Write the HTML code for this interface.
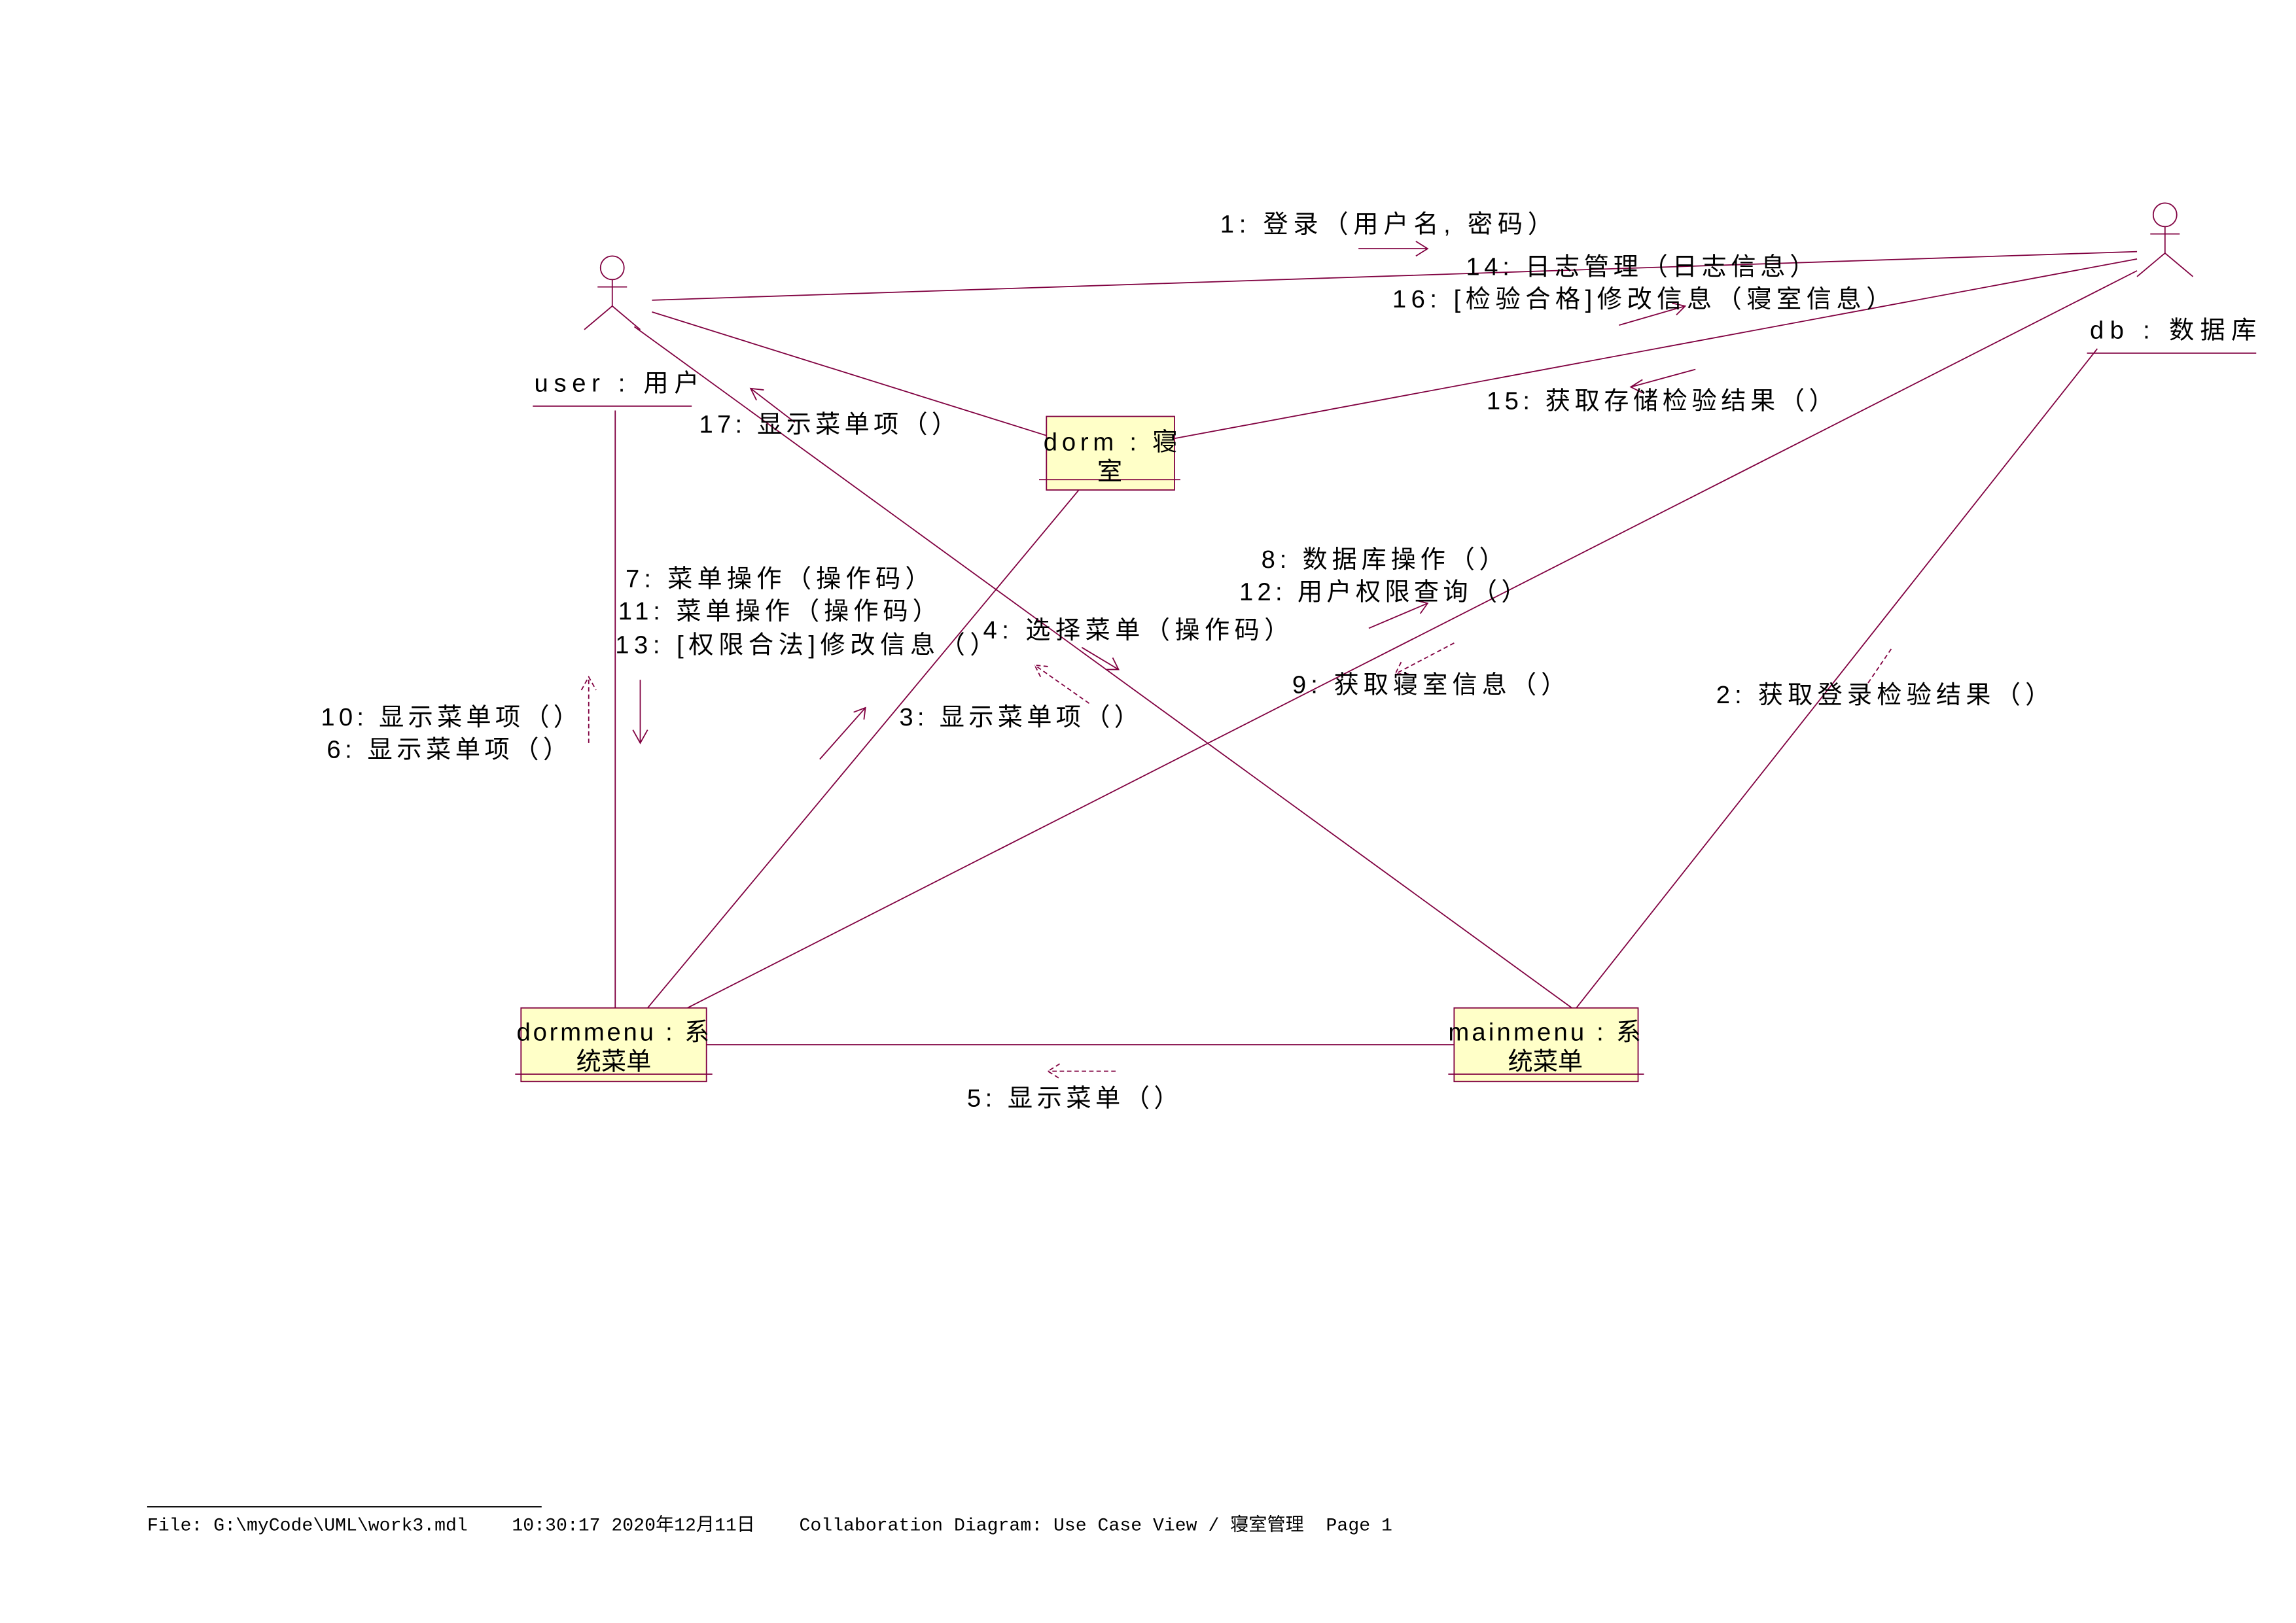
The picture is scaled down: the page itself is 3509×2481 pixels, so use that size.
<!DOCTYPE html>
<html><head><meta charset="utf-8"><style>
html,body{margin:0;padding:0;background:#fff;}
svg{display:block;}
text{font-family:"Liberation Sans","Noto Sans CJK SC",sans-serif;fill:#000;}
.m{font-family:"Liberation Mono","Noto Sans CJK SC",monospace;}
</style></head><body>
<svg width="3509" height="2481" viewBox="0 0 1560 1103" xmlns="http://www.w3.org/2000/svg">
<g stroke="#800040" stroke-width="0.8" fill="none">
<circle cx="416" cy="182" r="8"/>
<line x1="416" y1="190" x2="416" y2="208"/>
<line x1="406" y1="195" x2="426" y2="195"/>
<line x1="416" y1="208" x2="397" y2="224"/>
<line x1="416" y1="208" x2="435" y2="224"/>
<line x1="362" y1="276" x2="470" y2="276"/>
<circle cx="1471" cy="146" r="8"/>
<line x1="1471" y1="154" x2="1471" y2="172"/>
<line x1="1461" y1="159" x2="1481" y2="159"/>
<line x1="1471" y1="172" x2="1452" y2="188"/>
<line x1="1471" y1="172" x2="1490" y2="188"/>
<line x1="1418" y1="240" x2="1533" y2="240"/>
<line x1="443" y1="204" x2="1452" y2="171"/>
<line x1="443" y1="212" x2="711" y2="296"/>
<line x1="431" y1="222" x2="1068" y2="685"/>
<line x1="418" y1="279" x2="418" y2="685"/>
<line x1="798" y1="298" x2="1452" y2="176"/>
<line x1="733" y1="333" x2="440" y2="685"/>
<line x1="1452" y1="184" x2="467" y2="685"/>
<line x1="1425" y1="237" x2="1071" y2="685"/>
<line x1="480" y1="710" x2="988" y2="710"/>
<path d="M923 169 L970 169 M962 164 L970 169 L962 174"/>
<path d="M1100 221 L1145 208 M1136 206 L1145 208 L1139 214"/>
<path d="M1152 251 L1108 263 M1116 258 L1108 263 L1116 267"/>
<path d="M540 287 L510 264 M519 265 L510 264 L514 272"/>
<path d="M435 462 L435 505 M430 496 L435 505 L440 496"/>
<path d="M400 505 L400 460 M395 469 L400 460 L405 469" stroke-dasharray="3,2"/>
<path d="M740 478 L703 452 M712 453 L703 452 L707 460" stroke-dasharray="3,2"/>
<path d="M735 440 L760 455 M752 455 L760 455 L756 447"/>
<path d="M557 516 L588 481 M580 484 L588 481 L587 489"/>
<path d="M930 427 L970 410 M962 408 L970 410 L965 417"/>
<path d="M988 437 L948 458 M952 450 L948 458 L957 458" stroke-dasharray="3,2"/>
<path d="M1285 441 L1268 466" stroke-dasharray="3,2"/>
<path d="M758 728 L712 728 M720 723 L712 728 L720 733" stroke-dasharray="3,2"/>
</g>
<g stroke="#800040" stroke-width="0.8">
<rect x="711" y="283" width="87" height="50" fill="#ffffc8"/>
<line x1="706" y1="326" x2="802" y2="326"/>
<rect x="354" y="685" width="126" height="50" fill="#ffffc8"/>
<line x1="350" y1="730" x2="484" y2="730"/>
<rect x="988" y="685" width="125" height="50" fill="#ffffc8"/>
<line x1="984" y1="730" x2="1117" y2="730"/>
</g>
<g font-size="17" lengthAdjust="spacing">
<text x="709" y="306" textLength="91">dorm : 寝</text>
<text x="754" y="326" text-anchor="middle">室</text>
<text x="351" y="707" textLength="131">dormmenu : 系</text>
<text x="417" y="727" text-anchor="middle">统菜单</text>
<text x="984" y="707" textLength="131">mainmenu : 系</text>
<text x="1050" y="727" text-anchor="middle">统菜单</text>
<text x="363" y="266" textLength="112">user : 用户</text>
<text x="1420" y="230" textLength="113">db : 数据库</text>
<text x="829" y="158" textLength="226">1: 登录（用户名, 密码）</text>
<text x="996" y="187" textLength="237">14: 日志管理（日志信息）</text>
<text x="946" y="209" textLength="339">16: [检验合格]修改信息（寝室信息）</text>
<text x="1010" y="278" textLength="236">15: 获取存储检验结果（）</text>
<text x="475" y="294" textLength="175">17: 显示菜单项（）</text>
<text x="425" y="399" textLength="207">7: 菜单操作（操作码）</text>
<text x="420" y="421" textLength="217">11: 菜单操作（操作码）</text>
<text x="418" y="444" textLength="258">13: [权限合法]修改信息（）</text>
<text x="668" y="434" textLength="208">4: 选择菜单（操作码）</text>
<text x="857" y="386" textLength="165">8: 数据库操作（）</text>
<text x="842" y="408" textLength="195">12: 用户权限查询（）</text>
<text x="878" y="471" textLength="186">9: 获取寝室信息（）</text>
<text x="1166" y="478" textLength="227">2: 获取登录检验结果（）</text>
<text x="218" y="493" textLength="175">10: 显示菜单项（）</text>
<text x="222" y="515" textLength="164">6: 显示菜单项（）</text>
<text x="611" y="493" textLength="163">3: 显示菜单项（）</text>
<text x="657" y="752" textLength="144">5: 显示菜单（）</text>
</g>
<line x1="100" y1="1024" x2="368" y2="1024" stroke="#000" stroke-width="1"/>
<text class="m" x="100" y="1040" font-size="12.5" textLength="846" lengthAdjust="spacing" xml:space="preserve">File: G:\myCode\UML\work3.mdl    10:30:17 2020年12月11日    Collaboration Diagram: Use Case View / 寝室管理  Page 1</text>
</svg>
</body></html>
